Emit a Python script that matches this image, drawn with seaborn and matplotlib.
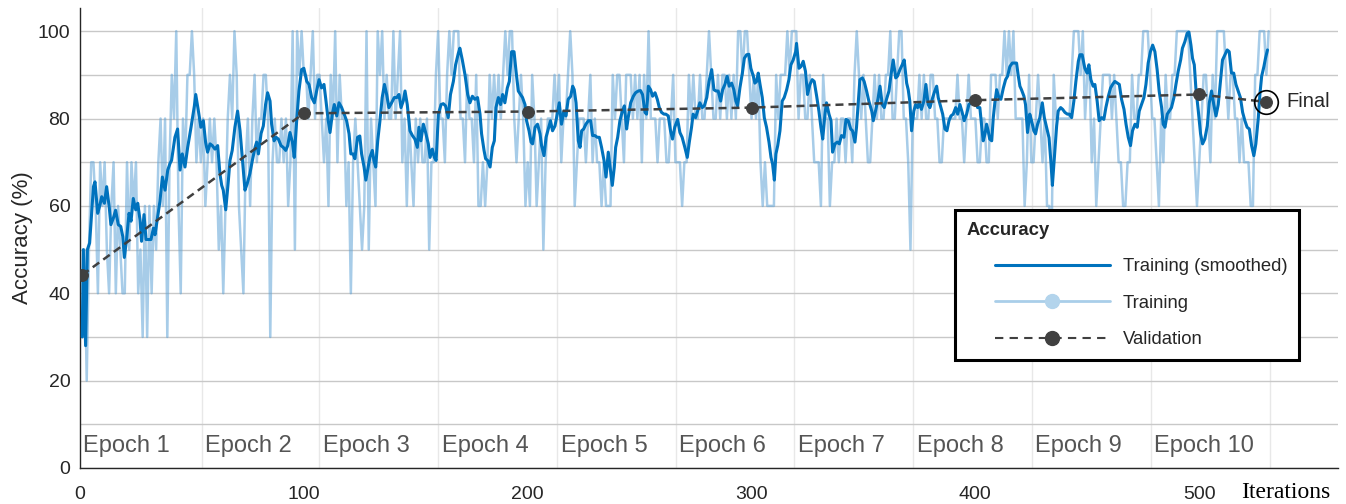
import numpy as np
import matplotlib
matplotlib.use("Agg")
import matplotlib.pyplot as plt
from matplotlib.lines import Line2D
from matplotlib.legend_handler import HandlerLine2D
import seaborn as sns

# -----------------------------
# style
# -----------------------------
sns.set_style("white")
plt.rcParams["font.family"] = ["Liberation Sans", "DejaVu Sans"]

# -----------------------------
# data
# -----------------------------
# raw mini-batch accuracy per iteration, in tens ("T" = 100)
raw_tens = (
    "3525776476" "7546746544" "7576745363" "6465786837" "98T648799T" "978"
    "7867878" "75646898T9" "6547868978" "8998378778" "7867T5T9T9" "989T899"
    "878" "698T798867" "4787656T58" "76T9T8988T" "89T7868768" "787785779T"
    "8879T9TTT8" "8798879667" "679898989T" "9TT8789867" "6986785788" "898"
    "97889T9" "6788878978" "7767666989" "9879998989" "798T888788" "877897"
    "7767" "7989889889" "T988989989" "898TT9TT98" "9897676666" "98999T9TTT"
    "8998898777" "6988677878" "878879T989" "8778989889" "9T889TT887" "58"
    "88989889" "9887788888" "8988789888" "7788779998" "99T9T9T888" "86797"
    "78987" "8665988888" "889TTT9T89" "9786789999" "8987766779" "8899TTT9"
    "88" "768798899T" "TTTTT98767" "8998798TTT" "T989988787" "776699TTT9T"
)
train_acc = [100 if c == "T" else int(c) * 10 for c in raw_tens]
train_iter = list(range(1, len(train_acc) + 1))

smooth_iter = [
    1, 1.5, 2.5, 3.3, 4.3, 6.0, 6.7, 7.9, 8.9, 9.7,
    10.9, 11.9, 13.1, 13.8, 14.9, 15.9, 17.1, 18.2, 19.1, 19.8,
    20.8, 21.9, 22.8, 23.8, 24.9, 25.8, 26.8, 27.5, 28.6, 29.5,
    30.5, 31.7, 32.8, 33.5, 34.7, 35.7, 36.8, 38.0, 39.2, 40.2,
    40.9, 42.4, 43.6, 44.7, 45.7, 46.9, 48.1, 49.6, 51.1, 51.7,
    52.9, 54.0, 55.1, 56.1, 57.0, 58.1, 59.1, 60.3, 61.5, 62.5,
    63.3, 64.0, 65.1, 66.3, 67.0, 68.0, 69.2, 70.4, 71.5, 72.5,
    73.7, 74.7, 75.9, 77.0, 78.2, 78.9, 79.7, 80.9, 81.9, 82.9,
    83.8, 84.9, 85.6, 86.7, 87.6, 88.6, 89.8, 90.8, 91.9, 92.8,
    93.8, 94.9, 95.7, 96.8, 97.8, 99.0, 100.0, 101.3, 102.3, 103.5,
    104.7, 105.7, 106.8, 107.9, 109.0, 109.9, 110.9, 111.7, 112.7, 113.6,
    114.7, 115.7, 116.9, 118.0, 119.1, 120.2, 121.0, 122.0, 122.8, 124.0,
    125.0, 125.8, 126.9, 127.7, 128.5, 129.5, 130.6, 131.3, 132.1, 133.0,
    134.0, 135.0, 136.0, 137.0, 138.0, 139.2, 140.4, 141.5, 142.5, 143.4,
    144.4, 145.2, 146.2, 147.4, 148.5, 149.6, 150.7, 151.4, 152.3, 153.4,
    154.4, 155.6, 156.4, 157.4, 158.3, 159.1, 160.1, 161.3, 162.3, 163.3,
    164.5, 165.5, 166.8, 167.8, 169.0, 169.7, 170.8, 172.0, 173.2, 174.2,
    175.3, 176.4, 177.6, 178.7, 179.4, 180.5, 181.2, 182.1, 183.2, 184.2,
    185.1, 185.8, 186.9, 187.9, 188.8, 189.8, 190.9, 191.8, 192.8, 193.9,
    194.8, 195.8, 196.8, 197.7, 198.8, 199.5, 200.6, 201.5, 202.2, 203.3,
    204.4, 205.5, 206.2, 207.3, 208.2, 209.2, 210.2, 211.1, 212.2, 213.2,
    214.1, 215.1, 216.2, 217.1, 218.1, 219.2, 220.1, 220.8, 221.6, 222.6,
    223.4, 224.1, 225.0, 226.0, 227.1, 228.1, 229.0, 230.0, 231.1, 232.0,
    233.0, 234.1, 235.0, 236.0, 236.8, 237.8, 238.7, 239.3, 240.2, 241.2,
    242.3, 243.2, 244.2, 244.9, 246.0, 247.2, 248.2, 249.4, 250.4, 251.3,
    252.4, 253.1, 253.9, 254.9, 255.8, 256.9, 257.9, 258.8, 259.8, 260.9,
    261.7, 262.8, 263.8, 264.7, 265.7, 267.0, 268.0, 269.0, 270.2, 271.3,
    272.2, 273.2, 273.9, 275.0, 275.9, 276.9, 278.0, 278.9, 280.0, 281.0,
    282.2, 283.2, 284.1, 285.1, 286.2, 287.1, 288.1, 289.1, 290.0, 291.1,
    292.1, 293.0, 293.8, 294.8, 295.9, 296.8, 297.8, 298.8, 299.7, 300.8,
    301.5, 302.3, 303.0, 303.8, 304.8, 305.7, 306.7, 307.8, 308.7, 309.4,
    310.2, 310.9, 311.7, 312.7, 313.7, 314.6, 315.7, 316.7, 317.6, 318.6,
    319.7, 320.1, 321.2, 322.1, 323.1, 324.1, 325.0, 326.1, 327.1, 328.0,
    329.1, 330.1, 331.0, 331.8, 332.8, 333.5, 334.6, 335.5, 336.2, 337.3,
    338.3, 339.2, 340.2, 341.3, 342.2, 343.2, 344.3, 345.1, 346.2, 346.9,
    347.7, 348.4, 349.5, 350.3, 351.4, 352.4, 353.7, 354.4, 355.5, 356.5,
    357.4, 358.4, 359.3, 360.3, 361.4, 362.3, 363.3, 364.4, 365.2, 366.3,
    367.3, 368.2, 369.3, 370.0, 370.7, 371.5, 372.5, 373.3, 374.2, 374.9,
    375.9, 377.0, 377.9, 378.9, 379.7, 380.7, 381.6, 382.7, 383.4, 384.4,
    385.4, 386.4, 387.3, 388.2, 389.1, 390.1, 391.2, 392.1, 393.1, 394.1,
    395.0, 396.1, 397.1, 398.0, 399.1, 400.1, 401.0, 402.0, 402.8, 403.5,
    404.3, 405.0, 405.7, 406.4, 407.3, 408.0, 408.7, 409.5, 410.5, 411.4,
    412.5, 413.5, 414.4, 415.4, 416.5, 417.4, 418.4, 419.1, 419.9, 420.6,
    421.7, 422.4, 423.3, 424.3, 425.1, 426.1, 426.9, 427.8, 428.8, 429.9,
    430.8, 431.8, 432.9, 433.8, 434.4, 435.2, 436.3, 437.0, 438.1, 439.0,
    440.0, 441.1, 442.0, 443.0, 444.0, 444.9, 446.0, 446.7, 447.7, 448.9,
    449.9, 450.7, 451.6, 452.6, 453.4, 454.4, 455.3, 456.4, 457.4, 458.3,
    459.4, 460.4, 461.3, 462.3, 463.4, 464.3, 465.3, 466.4, 467.3, 468.3,
    469.3, 470.2, 471.3, 472.3, 473.2, 474.2, 475.3, 476.2, 477.2, 478.2,
    479.2, 480.2, 481.2, 482.1, 483.2, 483.9, 484.7, 485.7, 486.6, 487.6,
    488.7, 489.6, 490.6, 491.7, 492.5, 493.6, 494.6, 495.4, 496.3, 497.0,
    497.8, 498.5, 499.6, 500.6, 501.5, 502.5, 503.6, 504.5, 505.5, 506.5,
    507.5, 508.5, 509.5, 510.4, 511.5, 512.5, 513.4, 514.4, 515.4, 516.4,
    517.4, 518.4, 519.4, 520.4, 521.4, 522.4, 523.4, 524.4, 525.3, 526.4,
    527.1, 527.9, 528.9, 529.6, 530.5,
]
smooth_acc = [
    30, 50, 28, 50, 51.5, 64.4, 65.5, 58.3, 60.2, 62.1,
    60.6, 64.4, 59.5, 55.7, 57.2, 59, 55.7, 55.3, 53, 48.2,
    52.3, 58.3, 56.5, 61.7, 59.1, 60.6, 56.8, 51.9, 58, 52.3,
    52.3, 52.3, 54.9, 53.4, 57.6, 61, 66.6, 63.6, 68.2, 69.7,
    70.4, 75.7, 77.6, 68.2, 71.9, 68.9, 73.4, 78, 82.9, 85.5,
    81.7, 78, 79.5, 74.6, 72.3, 74.2, 73.8, 73, 73.8, 67.4,
    64.7, 63.6, 59.1, 65.9, 70.4, 72.7, 78, 81.7, 77.2, 71.1,
    63.6, 65.1, 67.4, 70.4, 73.4, 74.6, 71.9, 76.6, 78.3, 83.2,
    85.9, 84, 78.7, 74.9, 75.7, 75.3, 73.8, 73.4, 72.7, 73.8,
    76.8, 74.6, 71.1, 79.5, 86.3, 91.2, 91.5, 88.5, 87.8, 84.8,
    83.6, 86.3, 88.9, 87, 87.8, 84, 79.5, 76.8, 81, 83.2,
    80.6, 83.6, 82.5, 81, 79.5, 76.5, 71.9, 71.9, 70.8, 75.7,
    76, 71.9, 68.9, 65.9, 68.2, 71.1, 72.7, 70.4, 68.9, 74.9,
    79.5, 84.8, 87.8, 85.5, 82.5, 83.6, 84.8, 84.8, 85.5, 82.5,
    84, 86.3, 83.2, 77.2, 76.1, 75.3, 73.4, 78, 74.9, 78.7,
    76.8, 74.2, 71.1, 73, 71.1, 70.4, 81, 83.2, 83.4, 82.9,
    80.2, 85.5, 88.5, 92.3, 94.9, 96.1, 93.4, 90, 85.5, 83.6,
    85.1, 84.4, 84.8, 81, 76.5, 72.7, 70.8, 70.4, 68.9, 73.4,
    74.9, 82.5, 84.8, 83.2, 85.5, 83.6, 87, 88.5, 95.3, 95.3,
    90.8, 86.3, 85.5, 84.8, 83.2, 79.5, 77.2, 74.6, 74.2, 78,
    78.7, 76.5, 73.8, 71.5, 75.7, 77.6, 79.5, 77.2, 78.3, 81,
    83.6, 78.7, 81.7, 80.6, 84.4, 85.1, 87.4, 86.6, 83.6, 74.9,
    73.4, 77.2, 77.6, 78.7, 79.5, 79.5, 76.1, 76.1, 75.7, 75.7,
    73.4, 70.4, 66.6, 72.3, 68.9, 64.7, 68.9, 73.4, 75.7, 79.5,
    81.7, 82.9, 77.6, 80.2, 83.6, 85.1, 85.9, 86.3, 86.4, 85.5,
    81.4, 81, 87.4, 86.6, 85.1, 85.9, 84.4, 82.5, 81.4, 81,
    81, 80.6, 77.2, 75.3, 78, 79.8, 76.8, 75.7, 73.4, 71.1,
    74.6, 78, 81, 80.2, 81.7, 83.6, 82.5, 82.9, 84.8, 88.5,
    91.2, 86.6, 86.3, 86.3, 84, 86.6, 87.8, 89.7, 87.4, 88.1,
    86.6, 84, 82.9, 87, 90.4, 93.8, 94.6, 94.7, 91.5, 89.7,
    88.1, 88.5, 90.4, 87.8, 84.8, 80.2, 78, 74.6, 71.1, 69.6,
    65.9, 71.9, 73.8, 77.2, 84, 84.8, 86.6, 88.9, 92.3, 93.4,
    95.3, 97.2, 91.5, 91.9, 93.1, 90.8, 85.5, 87.8, 88.9, 88.5,
    85.1, 81.7, 78, 75.3, 81, 83.6, 81, 79.5, 72.3, 74.2,
    74.6, 74.2, 76.1, 75.7, 79.8, 79.5, 77.6, 77.2, 74.6, 78,
    84, 88.9, 89.3, 88.5, 86.3, 84, 81.7, 79.5, 82, 84.5,
    87.4, 83.2, 82.5, 84.4, 86.3, 90, 93.4, 89.3, 89.7, 91.2,
    92.3, 93.4, 88.1, 86.6, 84, 77.2, 81.7, 83.2, 82.5, 83.6,
    82.1, 84, 87.8, 83.2, 82.5, 84.4, 85.9, 87.4, 84.8, 82.9,
    81, 77.6, 77.2, 79.5, 80.6, 81, 82.5, 81, 83.2, 81.4,
    79.5, 81, 83.2, 83.6, 84.4, 84, 82.5, 82.5, 78.3, 74.9,
    76.5, 78.7, 77.2, 75.3, 74.9, 80.2, 83.6, 86.6, 84.8, 84.4,
    87, 88.9, 89.7, 91.9, 92.7, 92.7, 92.7, 90, 87.4, 86.6,
    85.1, 83.2, 76.8, 81, 79.5, 77.2, 76.5, 78.7, 80.2, 83.6,
    80.2, 78, 75.6, 69.7, 64.7, 70.4, 78.3, 81.7, 82.5, 82.1,
    81.4, 81, 81, 80.2, 84, 88.5, 93.1, 94.6, 94.6, 91.5,
    90.4, 92.3, 88.9, 87.4, 87.8, 84, 79.5, 80.2, 79.8, 82.5,
    85.1, 87, 87.8, 88.5, 88.1, 87.8, 84.4, 82.1, 78.7, 75.7,
    73.8, 77.2, 78.7, 78, 81.7, 83.2, 84.8, 87.8, 92.7, 95.3,
    96.8, 95.3, 91.2, 86.3, 82.5, 78.7, 78, 81, 81.7, 82.5,
    84.8, 87.8, 90.8, 93.4, 96.1, 97.6, 99.5, 99.8, 96.8, 93.8,
    92.3, 87, 81.7, 76.5, 74.2, 75.3, 78.3, 83.6, 86.3, 83.2,
    80.6, 83.2, 88.5, 93.4, 94.6, 95.7, 95.3, 90.4, 90.4, 87.8,
    86.3, 84.8, 81.4, 79.5, 78, 77.6, 73.8, 71.5, 74.2, 80.2,
    85.5, 89.7, 91.9, 93.8, 95.7,
]

val_iter = [1, 100, 200, 300, 400, 500, 530]
val_acc = [44.2, 81.2, 81.6, 82.5, 84.2, 85.5, 83.8]

epoch_edges = [0, 54.4, 106.9, 160.1, 213.2, 266.2, 319.1, 372.2, 425.3, 478.4, 531.6]
epoch_names = [f"Epoch {i}" for i in range(1, 11)]

legend_labels = ["Training (smoothed)", "Training", "Validation"]

# colours
c_smooth = "#0072BD"
c_raw = "#5fa3d6"
c_val = "#404040"
c_text = "#262626"

# -----------------------------
# figure
# -----------------------------
fig = plt.figure(figsize=(13.46, 5.04), dpi=100)
ax = fig.add_axes([80 / 1346, 36 / 504, 1258 / 1346, 460 / 504])

for e in epoch_edges[1:]:
    ax.axvline(e, color="#e8e8e8", lw=1, zorder=0)

sns.lineplot(x=train_iter, y=train_acc, ax=ax, color=c_raw, alpha=0.55,
             lw=1.8, estimator=None, sort=False, zorder=2)
sns.lineplot(x=smooth_iter, y=smooth_acc, ax=ax, color=c_smooth,
             lw=2.2, estimator=None, sort=False, zorder=3)

n0 = len(ax.lines)
sns.lineplot(x=val_iter, y=val_acc, ax=ax, color=c_val, lw=1.8,
             linestyle="--", marker="o", markersize=8.5,
             markerfacecolor=c_val, markeredgecolor=c_val,
             estimator=None, sort=False, zorder=4)
ax.lines[n0].set_dashes([3.2, 2.0])

# ring around the final validation point
ax.plot(val_iter[-1], val_acc[-1], marker="o", ms=17, mfc="none",
        mec="black", mew=1.2, zorder=5)
ax.text(val_iter[-1] + 9, val_acc[-1], "Final", fontsize=14.5,
        color=c_text, va="center", ha="left")

# epoch labels along the bottom
for e, name in zip(epoch_edges[:-1], epoch_names):
    ax.text(e + 1.5, 5.0, name, fontsize=17, color="#555555",
            va="center", ha="left")

# axes
ax.set_xlim(0, 562)
ax.set_ylim(0, 105.3)
ax.set_xticks([0, 100, 200, 300, 400, 500])
ax.set_yticks([0, 20, 40, 60, 80, 100])
ax.set_yticks([10, 30, 50, 70, 90], minor=True)
ax.grid(axis="y", which="both", color="#c8c8c8", lw=1)
ax.grid(axis="x", visible=False)
ax.set_axisbelow(True)

ax.tick_params(axis="both", which="both", direction="in", length=8.5,
               width=1, color=c_text, labelcolor=c_text, labelsize=14)
ax.tick_params(axis="x", pad=13)
ax.tick_params(axis="y", pad=7)

sns.despine(ax=ax)
for s in ["left", "bottom"]:
    ax.spines[s].set_color(c_text)
    ax.spines[s].set_linewidth(1)

ax.set_xlabel("")
ax.set_ylabel("Accuracy (%)", fontsize=16, color=c_text)
ax.yaxis.set_label_coords(-0.037, 0.5)

fig.text(1286 / 1346, 1 - 498 / 504, "Iterations", ha="center",
         va="baseline", fontsize=17, color="black",
         family=["Liberation Serif", "DejaVu Serif"])

# legend
handles = [
    Line2D([], [], color=c_smooth, lw=2.2),
    Line2D([], [], color="#a9cee9", lw=2, marker="o", ms=10,
           mfc="#b3d4ec", mec="#b3d4ec"),
    Line2D([], [], color=c_val, lw=1.5, ls=(0, (4, 3)), marker="o", ms=10,
           mfc=c_val, mec=c_val),
]
leg = ax.legend(handles, legend_labels, title="Accuracy",
                loc="upper left", bbox_to_anchor=(0.6955, 0.561),
                bbox_transform=ax.transAxes, borderaxespad=0,
                fontsize=13.3,
                title_fontproperties={"weight": "bold", "size": 13.3},
                alignment="left", handlelength=7.74, handletextpad=0.7,
                borderpad=0.65, labelspacing=1.05, numpoints=1,
                frameon=True, fancybox=False, framealpha=1,
                edgecolor="black",
                handler_map={Line2D: HandlerLine2D(numpoints=1, xpad=1.52)})
leg.get_frame().set_linewidth(2.2)
leg.set_zorder(10)

fig.savefig("out.png", dpi=100, facecolor="white")
